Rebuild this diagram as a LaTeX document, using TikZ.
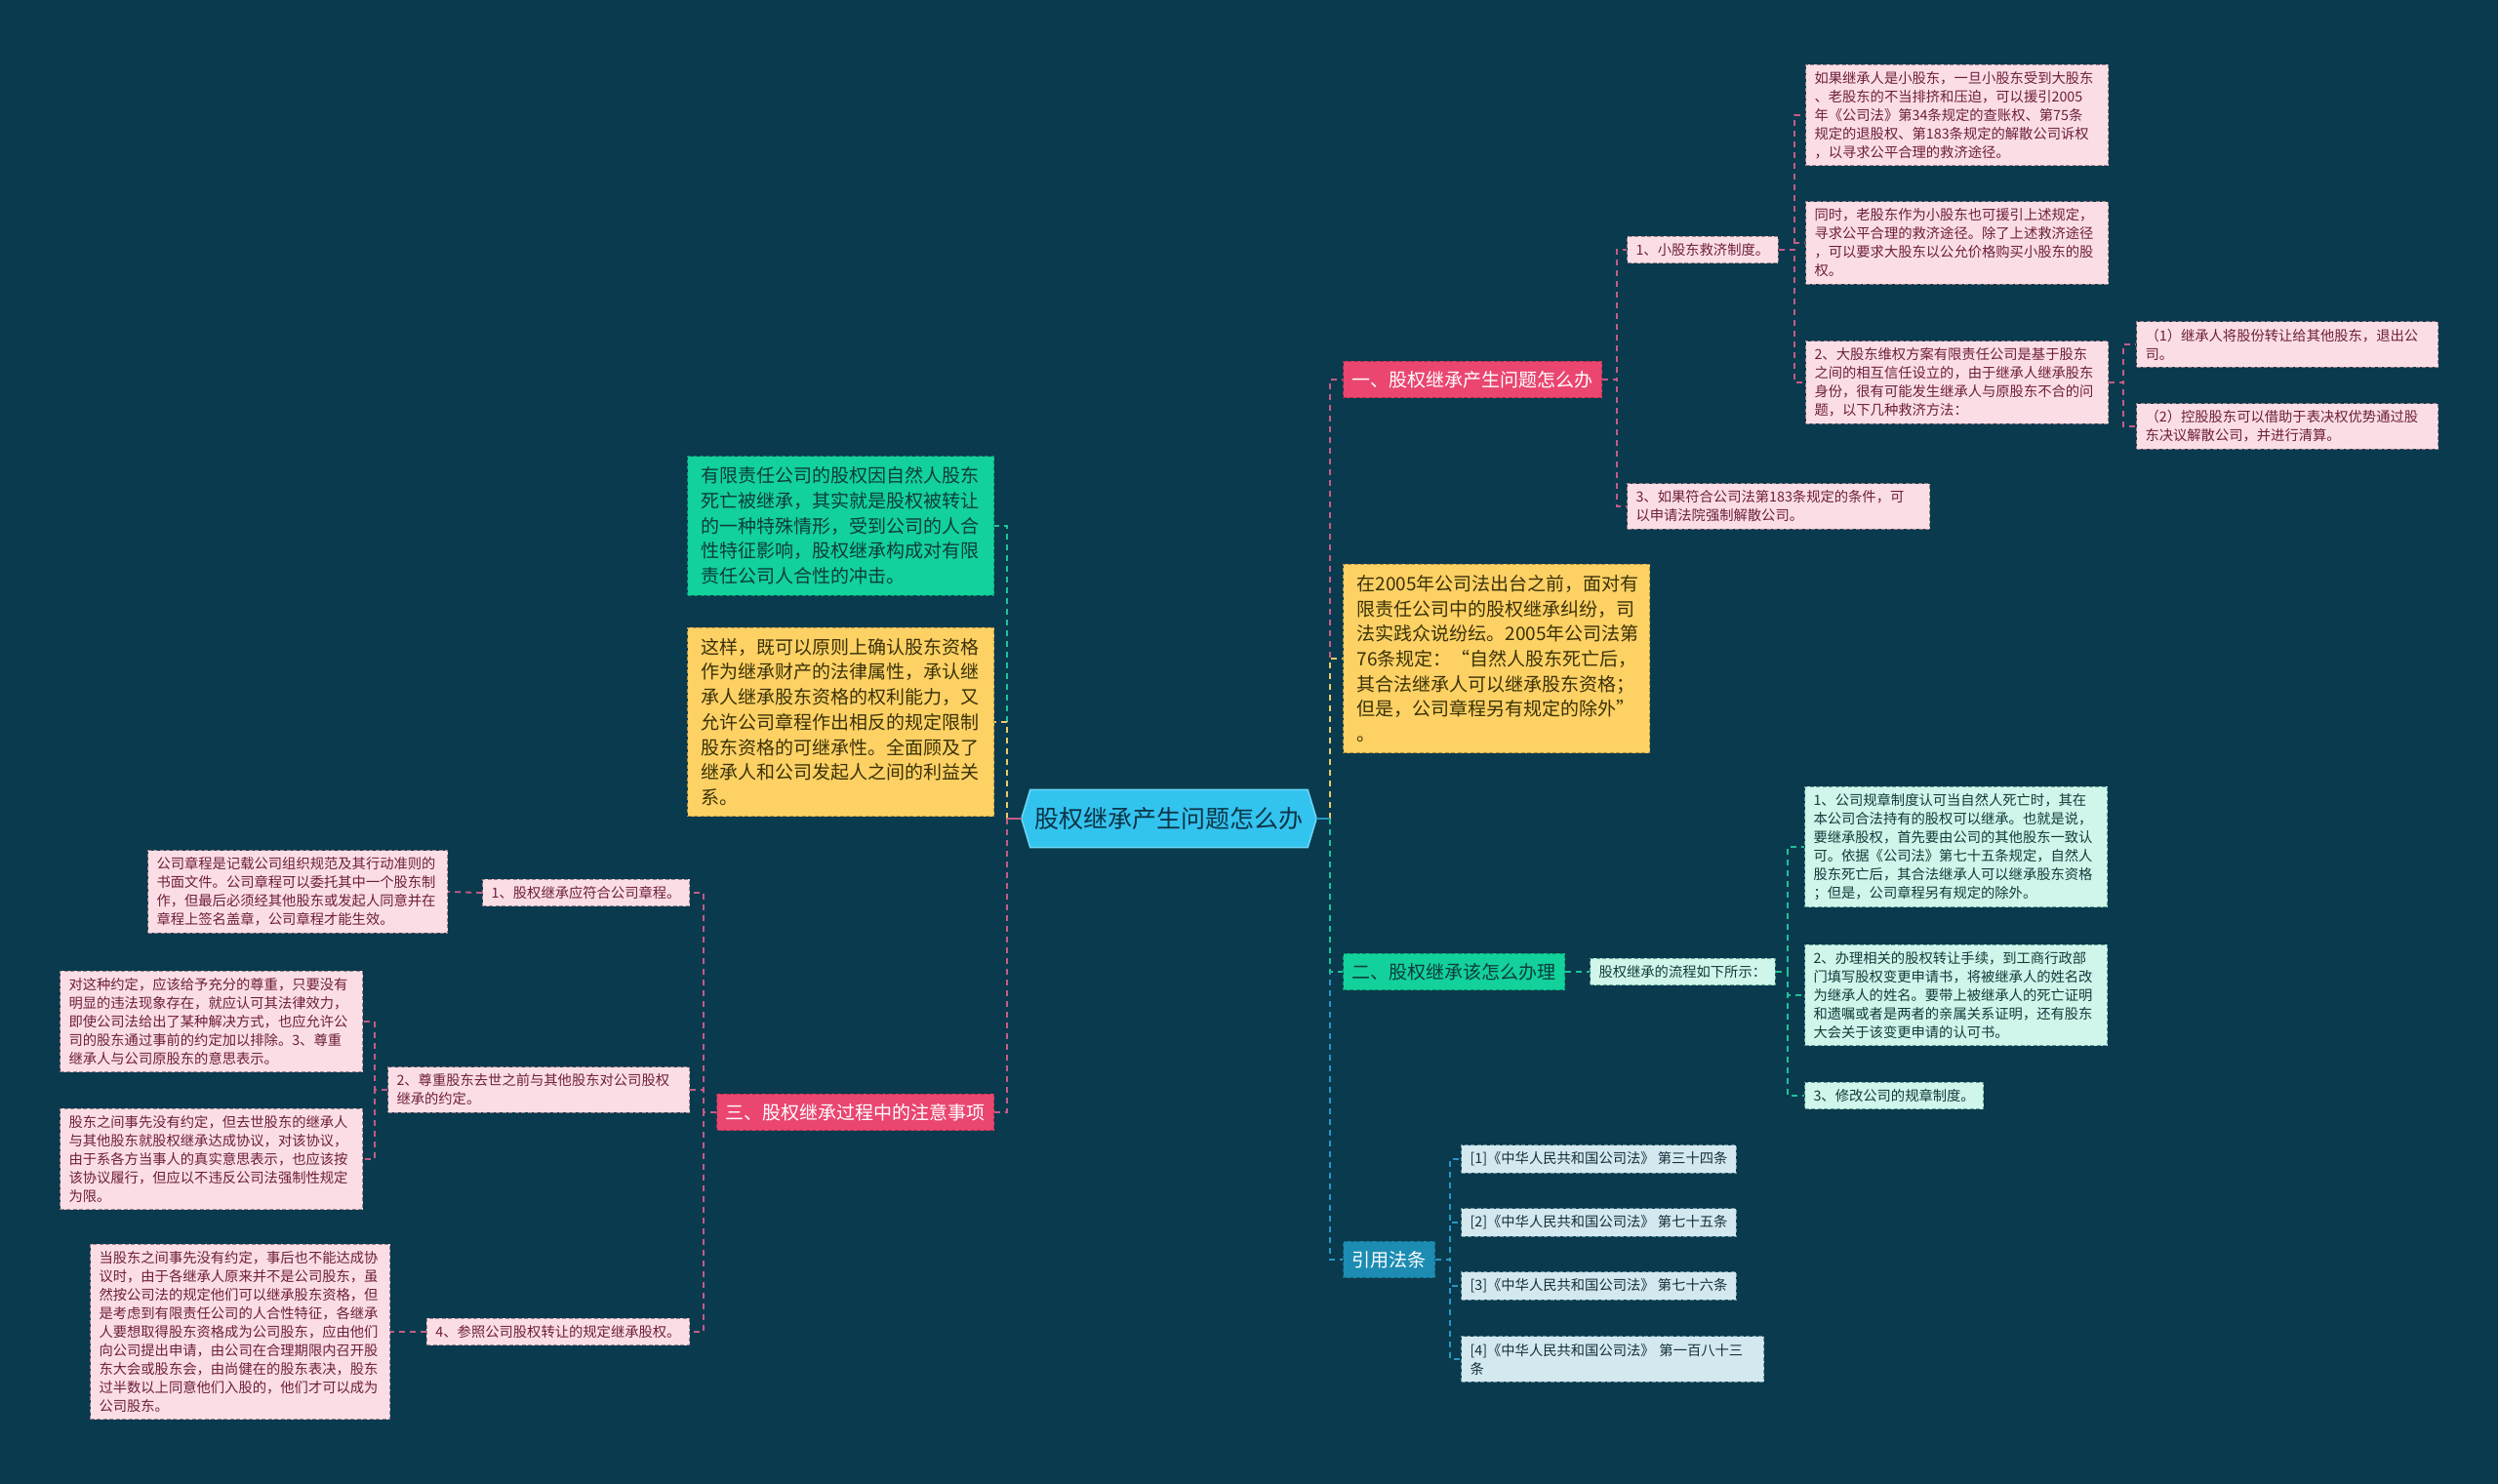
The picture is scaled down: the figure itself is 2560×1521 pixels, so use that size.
\documentclass[tikz,border=0pt]{standalone}
\usepackage{fontspec}
\setmainfont{Noto Sans CJK SC}
\usetikzlibrary{backgrounds}
\definecolor{bg}{HTML}{0A3A4D}
\definecolor{ctrfill}{HTML}{33C3EF}
\definecolor{ctrborder}{HTML}{6AD6F7}
\definecolor{ctrtext}{HTML}{0B3446}
\definecolor{redfill}{HTML}{EA4670}
\definecolor{yelfill}{HTML}{FDD164}
\definecolor{yeltext}{HTML}{3A3208}
\definecolor{grnfill}{HTML}{12D19A}
\definecolor{grntext}{HTML}{0D3C3E}
\definecolor{bluefill}{HTML}{1C8CB3}
\definecolor{pinkleaf}{HTML}{FBDEE5}
\definecolor{pinktext}{HTML}{6E1F3A}
\definecolor{pinkedge}{HTML}{9E7F8C}
\definecolor{mintleaf}{HTML}{D0F5EB}
\definecolor{minttext}{HTML}{123B3A}
\definecolor{mintedge}{HTML}{5E9E90}
\definecolor{skyleaf}{HTML}{D4E8EF}
\definecolor{skytext}{HTML}{13303C}
\definecolor{skyedge}{HTML}{6E97A6}
\definecolor{lnpink}{HTML}{C45C86}
\definecolor{lnyel}{HTML}{E9CB6A}
\definecolor{lngrn}{HTML}{1CC39A}
\definecolor{lnblue}{HTML}{2896C4}
\tikzset{
  boxbase/.style={draw, dash pattern=on 4pt off 2.5pt, line width=1pt, inner xsep=9pt, inner ysep=7pt, align=left},
  leafP/.style={boxbase, fill=pinkleaf, draw=pinkedge, text=pinktext, font=\fontsize{14.3}{19}\selectfont},
  leafM/.style={boxbase, fill=mintleaf, draw=mintedge, text=minttext, font=\fontsize{14.3}{19}\selectfont},
  leafS/.style={boxbase, fill=skyleaf, draw=skyedge, text=skytext, font=\fontsize{14.3}{19}\selectfont},
  brR/.style={boxbase, fill=redfill, draw=redfill!70!black, text=white, font=\fontsize{19}{24}\selectfont, inner ysep=10pt},
  brG/.style={boxbase, fill=grnfill, draw=grnfill!70!black, text=grntext, font=\fontsize{19}{24}\selectfont, inner ysep=10pt},
  brB/.style={boxbase, fill=bluefill, draw=bluefill!70!black, text=white, font=\fontsize{19}{24}\selectfont, inner ysep=10pt},
  bigY/.style={boxbase, fill=yelfill, draw=yelfill!70!black, text=yeltext, font=\fontsize{19}{25.7}\selectfont, text width=286pt, inner xsep=14pt, inner ysep=11pt},
  bigG/.style={boxbase, fill=grnfill, draw=grnfill!70!black, text=grntext, font=\fontsize{19}{25.7}\selectfont, text width=286pt, inner xsep=14pt, inner ysep=11pt},
  conn/.style={line width=1.8pt, dash pattern=on 6pt off 5pt},
  connsolid/.style={line width=2.4pt},
  ctr/.style={inner sep=0pt, minimum width=302pt, minimum height=59pt, text=ctrtext, font=\fontsize{25}{30}\selectfont}
}
\begin{document}
\begin{tikzpicture}[x=1pt,y=-1pt]
\useasboundingbox (0,0) rectangle (2560,1521);
\begin{scope}[on background layer]
\fill[bg] (0,0) rectangle (2560,1521);
\end{scope}

% center
\node[ctr] (C) at (1198,839) {股权继承产生问题怎么办};
\begin{scope}[on background layer]
\filldraw[fill=ctrfill, draw=ctrborder, line width=1.5pt] ([xshift=9pt]C.north west) -- ([xshift=-9pt]C.north east) -- (C.east) -- ([xshift=-9pt]C.south east) -- ([xshift=9pt]C.south west) -- (C.west) -- cycle;
\end{scope}

% right main branches
\node[brR, anchor=west] (B1) at (1376,389) {一、股权继承产生问题怎么办};
\node[bigY, anchor=west] (B2) at (1376,675) {在2005年公司法出台之前，面对有\\限责任公司中的股权继承纠纷，司\\法实践众说纷纭。2005年公司法第\\76条规定：“自然人股东死亡后，\\其合法继承人可以继承股东资格；\\但是，公司章程另有规定的除外”\\。};
\node[brG, anchor=west] (B3) at (1376,996) {二、股权继承该怎么办理};
\node[brB, anchor=west] (B4) at (1376,1291) {引用法条};

% B1 subtree
\node[leafP, anchor=west] (R11) at (1667,256) {1、小股东救济制度。};
\node[leafP, anchor=west, text width=292pt] (R13) at (1667,519) {3、如果符合公司法第183条规定的条件，可\\以申请法院强制解散公司。};
\node[leafP, anchor=west, text width=292pt] (R11a) at (1850,118) {如果继承人是小股东，一旦小股东受到大股东\\、老股东的不当排挤和压迫，可以援引2005\\年《公司法》第34条规定的查账权、第75条\\规定的退股权、第183条规定的解散公司诉权\\，以寻求公平合理的救济途径。};
\node[leafP, anchor=west, text width=292pt] (R11b) at (1850,249) {同时，老股东作为小股东也可援引上述规定，\\寻求公平合理的救济途径。除了上述救济途径\\，可以要求大股东以公允价格购买小股东的股\\权。};
\node[leafP, anchor=west, text width=292pt] (R11c) at (1850,392) {2、大股东维权方案有限责任公司是基于股东\\之间的相互信任设立的，由于继承人继承股东\\身份，很有可能发生继承人与原股东不合的问\\题，以下几种救济方法：};
\node[leafP, anchor=west, text width=291pt] (R11c1) at (2189,353) {（1）继承人将股份转让给其他股东，退出公\\司。};
\node[leafP, anchor=west, text width=291pt] (R11c2) at (2189,437) {（2）控股股东可以借助于表决权优势通过股\\东决议解散公司，并进行清算。};

% B3 subtree
\node[leafM, anchor=west] (B3c) at (1629,996) {股权继承的流程如下所示：};
\node[leafM, anchor=west, text width=292pt] (G1) at (1849,868) {1、公司规章制度认可当自然人死亡时，其在\\本公司合法持有的股权可以继承。也就是说，\\要继承股权，首先要由公司的其他股东一致认\\可。依据《公司法》第七十五条规定，自然人\\股东死亡后，其合法继承人可以继承股东资格\\；但是，公司章程另有规定的除外。};
\node[leafM, anchor=west, text width=292pt] (G2) at (1849,1020) {2、办理相关的股权转让手续，到工商行政部\\门填写股权变更申请书，将被继承人的姓名改\\为继承人的姓名。要带上被继承人的死亡证明\\和遗嘱或者是两者的亲属关系证明，还有股东\\大会关于该变更申请的认可书。};
\node[leafM, anchor=west] (G3) at (1849,1123) {3、修改公司的规章制度。};

% B4 subtree
\node[leafS, anchor=west] (F1) at (1497,1188) {[1]《中华人民共和国公司法》 第三十四条};
\node[leafS, anchor=west] (F2) at (1497,1253) {[2]《中华人民共和国公司法》 第七十五条};
\node[leafS, anchor=west] (F3) at (1497,1318) {[3]《中华人民共和国公司法》 第七十六条};
\node[leafS, anchor=west, text width=292pt] (F4) at (1497,1393) {[4]《中华人民共和国公司法》 第一百八十三\\条};

% left main branches
\node[bigG, anchor=east] (L1) at (1019,539) {有限责任公司的股权因自然人股东\\死亡被继承，其实就是股权被转让\\的一种特殊情形，受到公司的人合\\性特征影响，股权继承构成对有限\\责任公司人合性的冲击。};
\node[bigY, anchor=east] (L2) at (1019,740) {这样，既可以原则上确认股东资格\\作为继承财产的法律属性，承认继\\承人继承股东资格的权利能力，又\\允许公司章程作出相反的规定限制\\股东资格的可继承性。全面顾及了\\继承人和公司发起人之间的利益关\\系。};
\node[brR, anchor=east] (L3) at (1019,1140) {三、股权继承过程中的注意事项};

% L3 subtree
\node[leafP, anchor=east] (L31) at (707,915) {1、股权继承应符合公司章程。};
\node[leafP, anchor=east, text width=291pt] (L32) at (707,1117) {2、尊重股东去世之前与其他股东对公司股权\\继承的约定。};
\node[leafP, anchor=east] (L34) at (707,1365) {4、参照公司股权转让的规定继承股权。};
\node[leafP, anchor=east, text width=289pt] (L31c) at (459,914) {公司章程是记载公司组织规范及其行动准则的\\书面文件。公司章程可以委托其中一个股东制\\作，但最后必须经其他股东或发起人同意并在\\章程上签名盖章，公司章程才能生效。};
\node[leafP, anchor=east, text width=292pt] (L32a) at (372,1047) {对这种约定，应该给予充分的尊重，只要没有\\明显的违法现象存在，就应认可其法律效力，\\即使公司法给出了某种解决方式，也应允许公\\司的股东通过事前的约定加以排除。3、尊重\\继承人与公司原股东的意思表示。};
\node[leafP, anchor=east, text width=292pt] (L32b) at (372,1188) {股东之间事先没有约定，但去世股东的继承人\\与其他股东就股权继承达成协议，对该协议，\\由于系各方当事人的真实意思表示，也应该按\\该协议履行，但应以不违反公司法强制性规定\\为限。};
\node[leafP, anchor=east, text width=289pt] (L34c) at (400,1365) {当股东之间事先没有约定，事后也不能达成协\\议时，由于各继承人原来并不是公司股东，虽\\然按公司法的规定他们可以继承股东资格，但\\是考虑到有限责任公司的人合性特征，各继承\\人要想取得股东资格成为公司股东，应由他们\\向公司提出申请，由公司在合理期限内召开股\\东大会或股东会，由尚健在的股东表决，股东\\过半数以上同意他们入股的，他们才可以成为\\公司股东。};

% trunk connectors
\draw[conn, lnpink] ([xshift=14pt]C.east) |- (B1.west);
\draw[conn, lnyel] ([xshift=14pt]C.east) |- (B2.west);
\draw[conn, lnblue] ([xshift=14pt]C.east) |- (B4.west);
\draw[conn, lngrn] ([xshift=14pt]C.east) |- (B3.west);
\draw[connsolid, lnblue] (C.east) -- ++(14,0);
\draw[conn, lngrn] ([xshift=-15pt]C.west) |- (L1.east);
\draw[conn, lnyel] ([xshift=-15pt]C.west) |- (L2.east);
\draw[conn, lnpink] ([xshift=-15pt]C.west) |- (L3.east);
\draw[connsolid, lnpink] (C.west) -- ++(-15,0);

% subtree connectors
\draw[conn, lnpink] (B1.east) -- ++(15,0) |- (R11.west);
\draw[conn, lnpink] (B1.east) -- ++(15,0) |- (R13.west);
\draw[conn, lnpink] (R11.east) -- ++(16,0) |- (R11a.west);
\draw[conn, lnpink] (R11.east) -- ++(16,0) |- (R11b.west);
\draw[conn, lnpink] (R11.east) -- ++(16,0) |- (R11c.west);
\draw[conn, lnpink] (R11c.east) -- ++(15,0) |- (R11c1.west);
\draw[conn, lnpink] (R11c.east) -- ++(15,0) |- (R11c2.west);

\draw[conn, lngrn] (B3.east) -- (B3c.west);
\draw[conn, lngrn] (B3c.east) -- ++(12,0) |- (G1.west);
\draw[conn, lngrn] (B3c.east) -- ++(12,0) |- (G2.west);
\draw[conn, lngrn] (B3c.east) -- ++(12,0) |- (G3.west);

\draw[conn, lnblue] (B4.east) -- ++(15,0) |- (F1.west);
\draw[conn, lnblue] (B4.east) -- ++(15,0) |- (F2.west);
\draw[conn, lnblue] (B4.east) -- ++(15,0) |- (F3.west);
\draw[conn, lnblue] (B4.east) -- ++(15,0) |- (F4.west);

\draw[conn, lnpink] (L3.west) -- ++(-13,0) |- (L31.east);
\draw[conn, lnpink] (L3.west) -- ++(-13,0) |- (L32.east);
\draw[conn, lnpink] (L3.west) -- ++(-13,0) |- (L34.east);
\draw[conn, lnpink] (L31.west) -- (L31c.east);
\draw[conn, lnpink] (L32.west) -- ++(-13,0) |- (L32a.east);
\draw[conn, lnpink] (L32.west) -- ++(-13,0) |- (L32b.east);
\draw[conn, lnpink] (L34.west) -- (L34c.east);
\end{tikzpicture}
\end{document}
